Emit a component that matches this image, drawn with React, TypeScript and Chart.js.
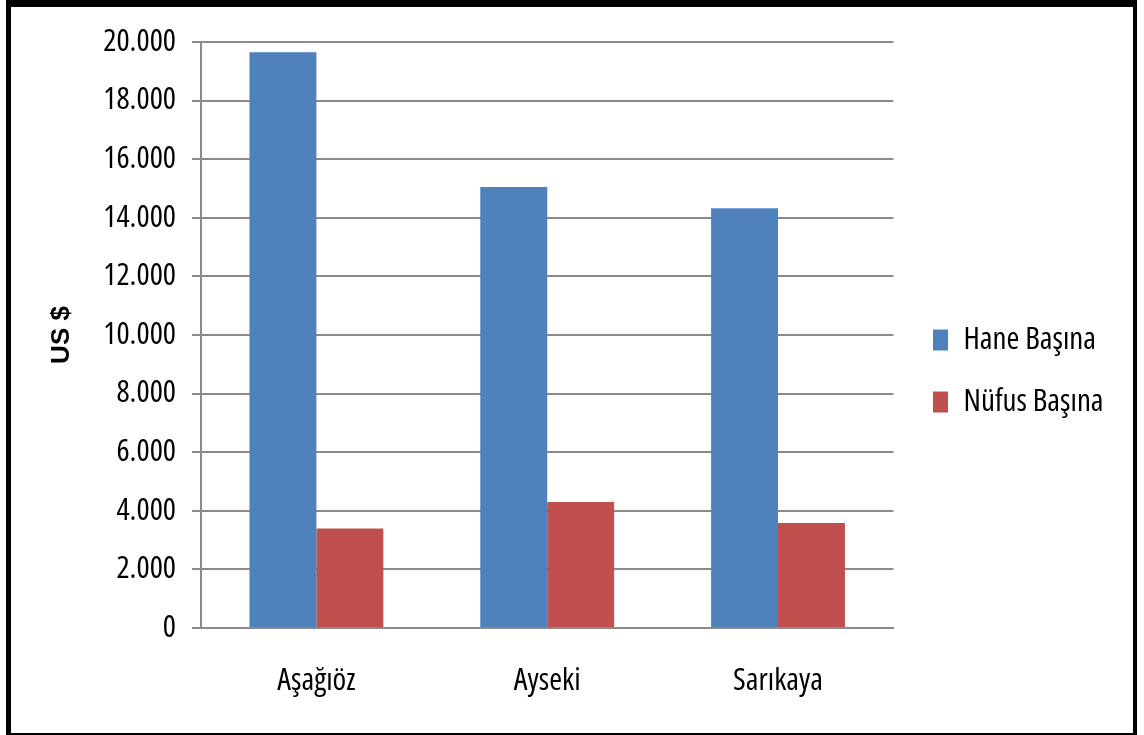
import React, { useEffect, useRef } from "react";
import { Chart, registerables } from "chart.js";

Chart.register(...registerables);

const categories = ["Aşağıöz", "Ayseki", "Sarıkaya"];
const haneBasina = [19650, 15050, 14330];
const nufusBasina = [3400, 4300, 3580];
const seriesNames = ["Hane Başına", "Nüfus Başına"];
const yAxisTitle = "US $";
const yMin = 0;
const yMax = 20000;
const yStep = 2000;

const fmt = (v: number) => String(v).replace(/\B(?=(\d{3})+(?!\d))/g, ".");

const COND = "'Open Sans', 'Liberation Sans', sans-serif";
const GRID = "#8a8a8a";
const FS = 31;

const legendPlace = {
  id: "legendPlace",
  afterLayout(chart: any) {
    const lg = chart.legend;
    if (!lg) return;
    const w = lg.width;
    lg.left = 902;
    lg.right = 902 + w;
    lg.top = 200;
    lg.bottom = 542;
  },
};

export default function App() {
  const ref = useRef<HTMLCanvasElement | null>(null);
  useEffect(() => {
    if (!ref.current) return;
    const chart = new Chart(ref.current, {
      type: "bar",
      data: {
        labels: categories,
        datasets: [
          { label: seriesNames[0], data: haneBasina, backgroundColor: "#4F81BD", borderWidth: 0 },
          { label: seriesNames[1], data: nufusBasina, backgroundColor: "#C0504D", borderWidth: 0 },
        ],
      },
      options: {
        responsive: false,
        animation: false,
        devicePixelRatio: 1,
        layout: { padding: { left: 0, top: 42, right: 39, bottom: 0 } },
        datasets: { bar: { categoryPercentage: 0.58, barPercentage: 1.0 } },
        plugins: {
          tooltip: { enabled: false },
          legend: {
            position: "right",
            labels: {
              boxWidth: 15,
              boxHeight: 21,
              padding: 31,
              color: "#000",
              textAlign: "left",
              font: { family: COND, size: FS, weight: "condensed" as any },
            },
          },
        },
        scales: {
          x: {
            grid: { display: false, drawTicks: false, tickLength: 0 },
            border: { display: true, color: GRID, width: 2 },
            ticks: { color: "#000", padding: 35, font: { family: COND, size: FS, weight: "condensed" as any } },
            afterFit: (s: any) => {
              s.height = 107;
            },
          },
          y: {
            min: yMin,
            max: yMax,
            ticks: {
              stepSize: yStep,
              color: "#000",
              padding: 16,
              font: { family: COND, size: FS, weight: "condensed" as any },
              callback: (v: any) => fmt(Number(v)),
            },
            grid: { color: GRID, lineWidth: 2, drawTicks: true, tickLength: 9, tickColor: GRID },
            border: { display: true, color: GRID, width: 2 },
            title: {
              display: true,
              text: yAxisTitle,
              color: "#000",
              font: { family: "'Liberation Sans', Arial, sans-serif", size: 26, weight: "bold" },
              padding: { top: 46, bottom: 0 },
            },
            afterFit: (s: any) => {
              s.width = 201;
            },
          },
        },
      },
      plugins: [legendPlace],
    });
    return () => chart.destroy();
  }, []);

  return (
    <div style={{ position: "absolute", left: 0, top: 0, width: 1144, height: 735, background: "#fff" }}>
      <canvas ref={ref} width={1144} height={735} style={{ position: "absolute", left: 0, top: 0, display: "block" }} />
      <div
        style={{
          position: "absolute",
          left: 6,
          top: 0,
          width: 1131,
          height: 735,
          boxSizing: "border-box",
          borderLeft: "5px solid #000",
          borderTop: "7px solid #000",
          borderRight: "4px solid #000",
          borderBottom: "2px solid #000",
          pointerEvents: "none",
        }}
      />
    </div>
  );
}
